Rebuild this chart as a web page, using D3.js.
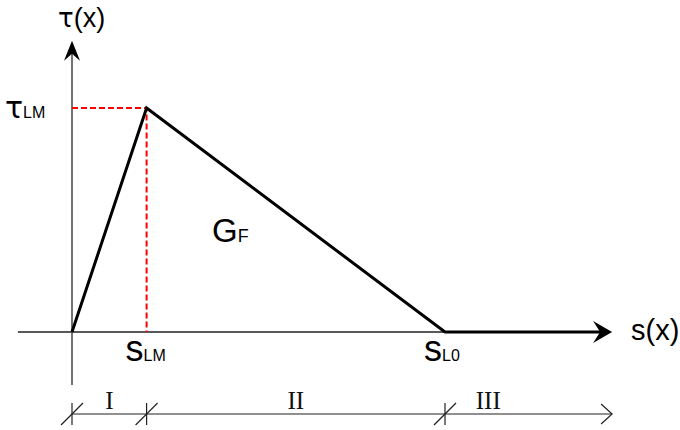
<!DOCTYPE html>
<html>
<head>
<meta charset="utf-8">
<script src="https://cdn.jsdelivr.net/npm/d3@7"></script>
<style>
  html, body { margin: 0; padding: 0; background: #fff; }
  svg { display: block; }
</style>
</head>
<body>
<svg id="chart" width="680" height="430"></svg>
<script>
// Bond-slip law: linear ascent to the peak, linear softening to zero, then free slip
const slip   = [0, 0.2, 1.0, 1.42];   // s(x)
const stress = [0, 1.0, 0.0, 0.0];    // τ(x), normalised by τLM
const peakSlip = 0.2;                 // sLM
const peakStress = 1.0;               // τLM
const ultimateSlip = 1.0;             // sL0
const zoneNames = ["I", "II", "III"];
const zoneBounds = [0, 0.2, 1.0, 1.448];

const svg = d3.select("#chart");
const x = d3.scaleLinear().domain([0, 1]).range([72, 445]);
const y = d3.scaleLinear().domain([0, 1]).range([332, 108]);

const sansFont = "'Liberation Sans', Arial, sans-serif";
const tauFont = "'DejaVu Sans', sans-serif";
const serifFont = "'Liberation Serif', 'Times New Roman', serif";

// Axes
svg.append("line")
  .attr("x1", x(-0.145)).attr("x2", x(1.43))
  .attr("y1", y(0)).attr("y2", y(0))
  .attr("stroke", "#222").attr("stroke-width", 1.5);
svg.append("line")
  .attr("x1", x(0)).attr("x2", x(0))
  .attr("y1", y(-0.237)).attr("y2", y(1.25))
  .attr("stroke", "#444").attr("stroke-width", 1.5);

// Filled arrowheads
const xt = x(1.448), yt = y(0);
svg.append("path")
  .attr("d", `M${xt},${yt} L${xt - 19},${yt - 11} L${xt - 12},${yt} L${xt - 19},${yt + 11} Z`)
  .attr("fill", "#000");
const ax = x(0), ay = y(1.30);
svg.append("path")
  .attr("d", `M${ax},${ay} L${ax - 8},${ay + 20} L${ax},${ay + 13} L${ax + 8},${ay + 20} Z`)
  .attr("fill", "#000");

// Dashed guides to the peak
svg.append("path")
  .attr("d", `M${x(0)},${y(peakStress)} H${x(peakSlip)} V${y(0)}`)
  .attr("fill", "none").attr("stroke", "#f00")
  .attr("stroke-width", 2).attr("stroke-dasharray", "6,3");

// Bond-slip curve
const line = d3.line().x((d, i) => x(slip[i])).y((d, i) => y(stress[i]));
svg.append("path")
  .datum(slip)
  .attr("d", line)
  .attr("fill", "none").attr("stroke", "#000")
  .attr("stroke-width", 3).attr("stroke-linejoin", "miter");

// Axis titles
const tauTitle = svg.append("text")
  .attr("x", 58).attr("y", 27)
  .attr("font-family", sansFont).attr("font-size", 27);
tauTitle.append("tspan").attr("font-family", tauFont).attr("font-size", 26).text("τ");
tauTitle.append("tspan").text("(x)");
svg.append("text")
  .attr("x", 631).attr("y", 340)
  .attr("font-family", sansFont).attr("font-size", 29)
  .text("s(x)");

// Peak and slip labels with subscripts
function subLabel(px, py, main, sub, mainSize, subSize, mainFont) {
  const t = svg.append("text")
    .attr("x", px).attr("y", py)
    .attr("font-family", sansFont);
  t.append("tspan").attr("font-size", mainSize)
    .attr("font-family", mainFont || sansFont).text(main);
  t.append("tspan").attr("font-size", subSize).text(sub);
  return t;
}
subLabel(5, 118, "τ", "LM", 30, 16, tauFont);
subLabel(x(peakSlip) - 21, 361, "s", "LM", 36, 16);
subLabel(x(ultimateSlip) - 21, 361, "s", "L0", 36, 16);
subLabel(212, 242, "G", "F", 33, 18);

// Zone dimension line
const dimY = 414;
svg.append("line")
  .attr("x1", x(zoneBounds[0])).attr("x2", x(zoneBounds[3]))
  .attr("y1", dimY).attr("y2", dimY)
  .attr("stroke", "#222").attr("stroke-width", 1.2);
const xe = x(zoneBounds[3]);
svg.append("path")
  .attr("d", `M${xe - 11},${dimY - 10} L${xe},${dimY} L${xe - 11},${dimY + 10}`)
  .attr("fill", "none").attr("stroke", "#222").attr("stroke-width", 1.2);

const ticks = svg.append("g").selectAll("g")
  .data(zoneBounds.slice(0, 3)).join("g")
  .attr("transform", d => `translate(${x(d)},${dimY})`);
ticks.append("line")
  .attr("y1", -11).attr("y2", 11)
  .attr("stroke", "#222").attr("stroke-width", 1.2);
ticks.append("line")
  .attr("x1", -11).attr("y1", 11).attr("x2", 11).attr("y2", -11)
  .attr("stroke", "#222").attr("stroke-width", 1.2);

svg.append("g").selectAll("text")
  .data(zoneNames).join("text")
  .attr("x", (d, i) => (x(zoneBounds[i]) + x(Math.min(zoneBounds[i + 1], 1.2))) / 2 + (i === 2 ? 6 : 0))
  .attr("y", 409)
  .attr("text-anchor", "middle")
  .attr("font-family", serifFont).attr("font-size", 25)
  .attr("fill", "#111")
  .text(d => d);
</script>
</body>
</html>
